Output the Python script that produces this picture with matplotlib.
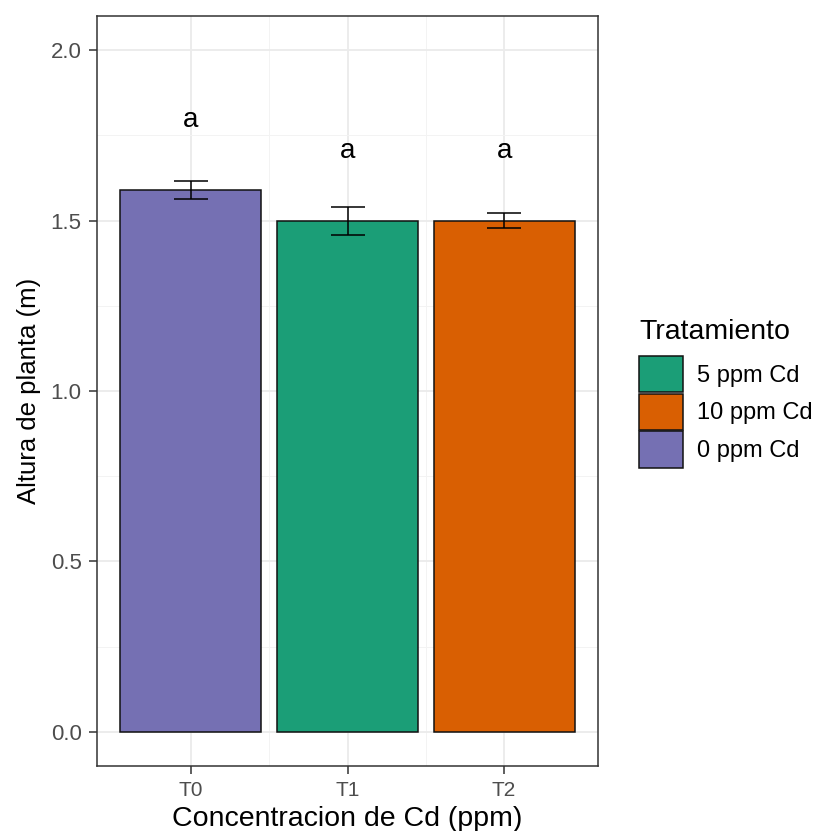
import matplotlib
matplotlib.use("Agg")
import matplotlib.pyplot as plt
from matplotlib.patches import Patch
from matplotlib.ticker import MultipleLocator

plt.rcParams['font.family'] = ['Liberation Sans', 'DejaVu Sans']

categories = ["T0", "T1", "T2"]
means = [1.590, 1.499, 1.499]
errors = [0.026, 0.040, 0.022]
letters = ["a", "a", "a"]
letter_y = [1.794, 1.704, 1.704]
colors = ["#7570B3", "#1B9E77", "#D95F02"]
legend_title = "Tratamiento"
legend_labels = ["5 ppm Cd", "10 ppm Cd", "0 ppm Cd"]
legend_colors = ["#1B9E77", "#D95F02", "#7570B3"]

fig = plt.figure(figsize=(8.23, 8.31), dpi=100)
W, H = 823, 831
ax = fig.add_axes([97 / W, (H - 766) / H, (598 - 97) / W, (766 - 16) / H])

x = list(range(1, len(categories) + 1))
ax.bar(x, means, width=0.9, color=colors, edgecolor="#111111", linewidth=1.1, zorder=3)
ax.errorbar(x, means, yerr=errors, fmt="none", ecolor="black", elinewidth=1.1,
            capsize=11.9, capthick=1.1, zorder=4)
for xi, yi, t in zip(x, letter_y, letters):
    ax.text(xi, yi, t, ha="center", va="center", fontsize=20, color="black", zorder=5)

ax.set_xlim(0.4, 3.6)
ax.set_ylim(-0.1, 2.1)
ax.set_xticks(x)
ax.set_xticklabels(categories)
ax.set_yticks([0.0, 0.5, 1.0, 1.5, 2.0])
ax.set_yticklabels(["0.0", "0.5", "1.0", "1.5", "2.0"])
ax.yaxis.set_minor_locator(MultipleLocator(0.25))
ax.set_xticks([1.5, 2.5], minor=True)

ax.grid(True, which="major", color="#EBEBEB", linewidth=1.3, zorder=0)
ax.grid(True, which="minor", color="#F3F3F3", linewidth=0.7, zorder=0)
ax.set_axisbelow(True)
ax.tick_params(axis="both", which="major", length=6, width=1.1, color="#333333",
               labelcolor="#4D4D4D", labelsize=15, pad=5)
ax.tick_params(axis="y", which="major", labelsize=16, pad=5)
ax.tick_params(axis="both", which="minor", length=0)
for s in ax.spines.values():
    s.set_color("#333333")
    s.set_linewidth(1.1)

ax.set_xlabel("Concentracion de Cd (ppm)", fontsize=20.5, color="black", labelpad=4)
ax.set_ylabel("Altura de planta (m)", fontsize=18.5, color="black", labelpad=7)

handles = [Patch(facecolor=c, edgecolor="#111111", linewidth=1.1) for c in legend_colors]
leg = fig.legend(handles, legend_labels, loc="upper left",
                 bbox_to_anchor=(639 / W, 1 - 356 / H), frameon=False,
                 fontsize=17, handlelength=1.86, handleheight=2.0,
                 labelspacing=0.05, handletextpad=0.6, borderaxespad=0, borderpad=0.0)
fig.text(639 / W, 1 - 339 / H, legend_title, fontsize=20.5, color="black",
         ha="left", va="baseline")

fig.savefig("out.png", dpi=100)
